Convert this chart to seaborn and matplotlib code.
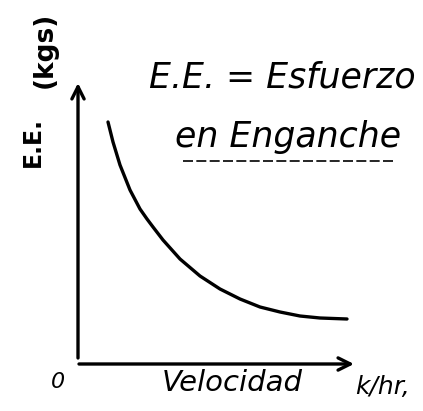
import matplotlib
matplotlib.use("Agg")
import matplotlib.pyplot as plt
import seaborn as sns
import pandas as pd

# Curve values (arbitrary units, origin at the axes corner)
velocidad = [30, 35, 42, 52, 62, 69, 75, 85, 102, 122, 142, 162, 182, 202, 222, 242, 269]
esfuerzo = [241, 221, 198, 173, 154, 144, 136, 123, 104, 87, 74, 64, 56, 51, 47, 45, 44]

titulo_1 = "E.E. = Esfuerzo"
titulo_2 = "en Enganche"
eje_x = "Velocidad"
unidad_x = "k/hr,"
eje_y = "E.E."
unidad_y = "(kgs)"
origen = "0"

sns.set_theme(style="white")
plt.rcParams["font.family"] = ["DejaVu Sans"]

fig = plt.figure(figsize=(4.23, 4.11), dpi=100)
ax = fig.add_axes([0, 0, 1, 1])
ax.set_xlim(-78, 345)
ax.set_ylim(-48, 363)
ax.axis("off")

df = pd.DataFrame({"v": velocidad, "e": esfuerzo})
sns.lineplot(data=df, x="v", y="e", sort=False, color="black", lw=2.4, ax=ax)

# axes arrows
ax.annotate("", xy=(0, 280), xytext=(0, 5),
            arrowprops=dict(arrowstyle="->", color="black", lw=2.4,
                            mutation_scale=22, shrinkA=0, shrinkB=0))
ax.annotate("", xy=(276, -1), xytext=(1, -1),
            arrowprops=dict(arrowstyle="->", color="black", lw=2.4,
                            mutation_scale=22, shrinkA=0, shrinkB=0))

kw = dict(color="black", style="italic", ha="center", va="center")
ax.text(204, 285, titulo_1, fontsize=25, **kw)
ax.text(210, 226, titulo_2, fontsize=25, **kw)
ax.plot([105, 315], [202, 202], color="black", lw=1.2, ls=(0, (6, 2)))
ax.text(-20, -19, origen, fontsize=16, **kw)
ax.text(154, -20, eje_x, fontsize=21, **kw)
ax.text(305, -24, unidad_x, fontsize=18, **kw)
ax.text(-45, 221, eje_y, fontsize=17, rotation=90, fontweight="bold",
        color="black", ha="center", va="center")
ax.text(-33, 313, unidad_y, fontsize=19, rotation=90, fontweight="bold",
        color="black", ha="center", va="center")

fig.savefig("out.png", dpi=100, facecolor="white")
